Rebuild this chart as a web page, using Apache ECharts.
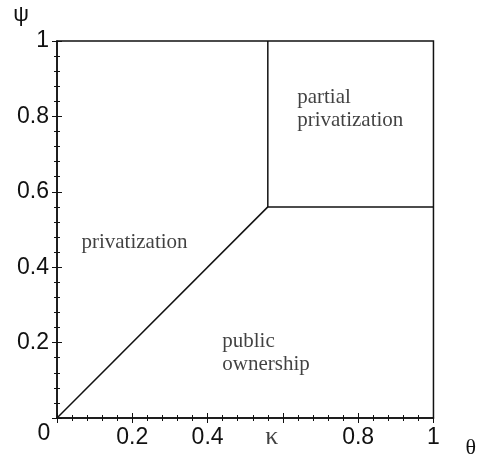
<!DOCTYPE html>
<html>
<head>
<meta charset="utf-8">
<script src="https://cdn.jsdelivr.net/npm/echarts@6/dist/echarts.min.js"></script>
<style>
html,body{margin:0;padding:0;background:#fff;}
#main{width:479px;height:459px;}
</style>
</head>
<body>
<div id="main"></div>
<script>
// kink of the regime boundary
var kappa = 0.56;
var psiStar = 0.56;
var diagX = [0, kappa];
var diagY = [0, psiStar];
var vertX = [kappa, kappa];
var vertY = [psiStar, 1];
var horzX = [kappa, 1];
var horzY = [psiStar, psiStar];

var xTickLabels = ['0', '0.2', '0.4', '', '0.8', '1'];
var yTickLabels = ['', '0.2', '0.4', '0.6', '0.8', '1'];

// region names and where they sit (left edge, middle)
var regionNames = ['privatization', 'partial\nprivatization', 'public\nownership'];
var regionX = [0.065, 0.638, 0.439];
var regionY = [0.466, 0.82, 0.172];

function pairs(xs, ys){
	var out = [];
	for(var i=0;i<xs.length;i++){
		out.push([xs[i], ys[i]]);
	}
	return out;
}

var sans = 'Liberation Sans, Arial, sans-serif';
var serif = 'Liberation Serif, Times New Roman, serif';

var myChart = echarts.init(document.getElementById('main'));

var lineStyle = {color:'#111', width:1.5};
var segment = function(xs, ys){
	return {
		type:'line',
		data:pairs(xs, ys),
		symbol:'none',
		lineStyle:lineStyle,
		silent:true,
		animation:false
	};
};

var regionData = [];
for(var i=0;i<regionNames.length;i++){
	regionData.push({value:[regionX[i], regionY[i]], name:regionNames[i]});
}

var option = {
	animation:false,
	grid:{
		left:57, right:44, top:41, bottom:40,
		show:true, borderColor:'#111', borderWidth:1.5
	},
	xAxis:[
		{
			type:'value', min:0, max:1, interval:0.2,
			name:'θ', nameLocation:'end', nameGap:32,
			nameTextStyle:{fontFamily:serif, fontSize:22, color:'#111', verticalAlign:'top', padding:[19,0,0,0]},
			axisLine:{show:true, lineStyle:{color:'#111', width:1.5}},
			axisTick:{show:true, inside:false, length:5, lineStyle:{color:'#111', width:1}},
			minorTick:{show:true, splitNumber:5, length:3, lineStyle:{color:'#111', width:1}},
			splitLine:{show:false},
			axisLabel:{
				margin:8, fontFamily:sans, fontSize:23, color:'#111',
				formatter:function(v){
					var s = xTickLabels[Math.round(v/0.2)];
					if(v === 0){ return '{z|' + s + '}'; }
					return s;
				},
				rich:{z:{fontFamily:sans, fontSize:23, lineHeight:16, color:'#111', padding:[0,26,0,0]}}
			}
		},
		{
			type:'value', min:0, max:1, interval:0.2, position:'bottom',
			axisLine:{show:false},
			axisTick:{show:true, inside:true, length:5, lineStyle:{color:'#111', width:1}},
			minorTick:{show:true, splitNumber:5, length:3, lineStyle:{color:'#111', width:1}},
			splitLine:{show:false},
			axisLabel:{show:false}
		}
	],
	yAxis:[
		{
			type:'value', min:0, max:1, interval:0.2,
			name:'ψ', nameLocation:'end', nameGap:26,
			nameTextStyle:{fontFamily:sans, fontSize:22, color:'#111', align:'right', verticalAlign:'middle', padding:[0,28,0,0]},
			axisLine:{show:true, lineStyle:{color:'#111', width:1.5}},
			axisTick:{show:true, inside:false, length:5, lineStyle:{color:'#111', width:1}},
			minorTick:{show:true, splitNumber:5, length:3, lineStyle:{color:'#111', width:1}},
			splitLine:{show:false},
			axisLabel:{
				margin:8, fontFamily:sans, fontSize:23, color:'#111',
				formatter:function(v){ return yTickLabels[Math.round(v/0.2)]; }
			}
		},
		{
			type:'value', min:0, max:1, interval:0.2, position:'left',
			axisLine:{show:false},
			axisTick:{show:true, inside:true, length:5, lineStyle:{color:'#111', width:1}},
			minorTick:{show:true, splitNumber:5, length:3, lineStyle:{color:'#111', width:1}},
			splitLine:{show:false},
			axisLabel:{show:false}
		}
	],
	series:[
		segment(diagX, diagY),
		segment(vertX, vertY),
		segment(horzX, horzY),
		{
			type:'scatter',
			data:regionData,
			symbolSize:0,
			silent:true,
			label:{
				show:true, position:'inside', align:'left', verticalAlign:'middle',
				formatter:'{b}', fontFamily:serif, fontSize:21, lineHeight:23, color:'#111'
			}
		},
		{
			// κ under the x axis at the kink
			type:'scatter',
			data:[[kappa, 0]],
			symbolSize:0,
			silent:true,
			clip:false,
			label:{
				show:true, position:'bottom', distance:6, offset:[4,0],
				formatter:'κ', fontFamily:serif, fontSize:26, color:'#111'
			}
		}
	]
};
myChart.setOption(option);
</script>
</body>
</html>
